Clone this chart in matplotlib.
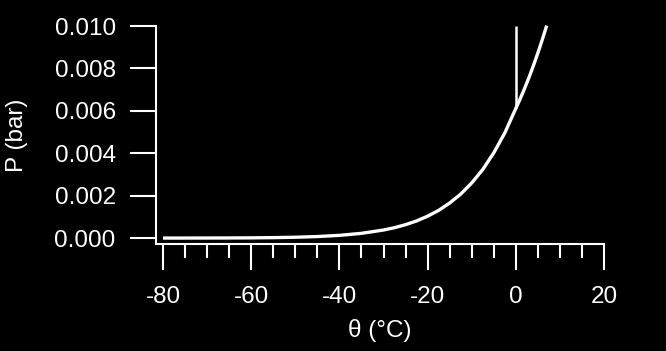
import matplotlib
matplotlib.use("Agg")
import matplotlib.pyplot as plt
from matplotlib.ticker import MultipleLocator

# Courbe de sublimation de la glace (bar)
theta_glace = [-80, -75, -70, -65, -60, -55, -50, -45, -40, -35, -30, -27.5, -25,
               -22.5, -20, -17.5, -15, -12.5, -10, -7.5, -5, -2.5, 0]
p_glace = [0.000000547, 0.00000122, 0.000002615, 0.000005408, 0.0000108, 0.00002092,
           0.00003935, 0.00007198, 0.0001284, 0.0002235, 0.0003801, 0.0004905, 0.0006329,
           0.0008084, 0.0010326, 0.001306, 0.001653, 0.002073, 0.002599, 0.003232,
           0.004018, 0.004956, 0.006112]

# Courbe de vaporisation de l'eau liquide (bar)
theta_eau = [0, 1, 2, 3, 4, 5, 6, 7]
p_eau = [0.006112, 0.006571, 0.007059, 0.00758, 0.008135, 0.008726, 0.009354, 0.010019]

# Courbe de fusion (quasi verticale)
theta_fusion = [0, 0]
p_fusion = [0.006112, 0.010]

plt.rcParams['font.family'] = ['Liberation Sans', 'DejaVu Sans']
plt.rcParams['axes.unicode_minus'] = False

fig = plt.figure(figsize=(6.66, 3.51), dpi=100, facecolor='black')
ax = fig.add_axes([0.2342, 0.3048, 0.6727, 0.6211], facecolor='black')

ax.plot(theta_glace + theta_eau[1:], p_glace + p_eau[1:], color='white', lw=2.4,
        solid_capstyle='butt', clip_on=False)
ax.plot(theta_fusion, p_fusion, color='white', lw=1.8, solid_capstyle='butt', clip_on=False)

ax.set_xlim(-81.6, 20)
ax.set_ylim(-0.00028, 0.010)

ax.xaxis.set_major_locator(MultipleLocator(20))
ax.xaxis.set_minor_locator(MultipleLocator(5))
ax.set_yticks([0, 0.002, 0.004, 0.006, 0.008, 0.010])
ax.set_yticklabels(['0.000', '0.002', '0.004', '0.006', '0.008', '0.010'])

for s in ['top', 'right']:
    ax.spines[s].set_visible(False)
for s in ['left', 'bottom']:
    ax.spines[s].set_color('white')
    ax.spines[s].set_linewidth(1.5)

ax.tick_params(which='major', length=19, width=1.5, color='white', labelcolor='white',
               labelsize=17.5, direction='out')
ax.tick_params(axis='x', which='major', pad=11)
ax.tick_params(axis='y', which='major', pad=10)
ax.tick_params(axis='x', which='minor', length=10, width=1.5, color='white', direction='out')

ax.set_xlabel('θ (°C)', color='white', fontsize=17.5, labelpad=8)
ax.set_ylabel('P (bar)', color='white', fontsize=17.5, labelpad=19)

fig.savefig('out.png', dpi=100, facecolor='black')
